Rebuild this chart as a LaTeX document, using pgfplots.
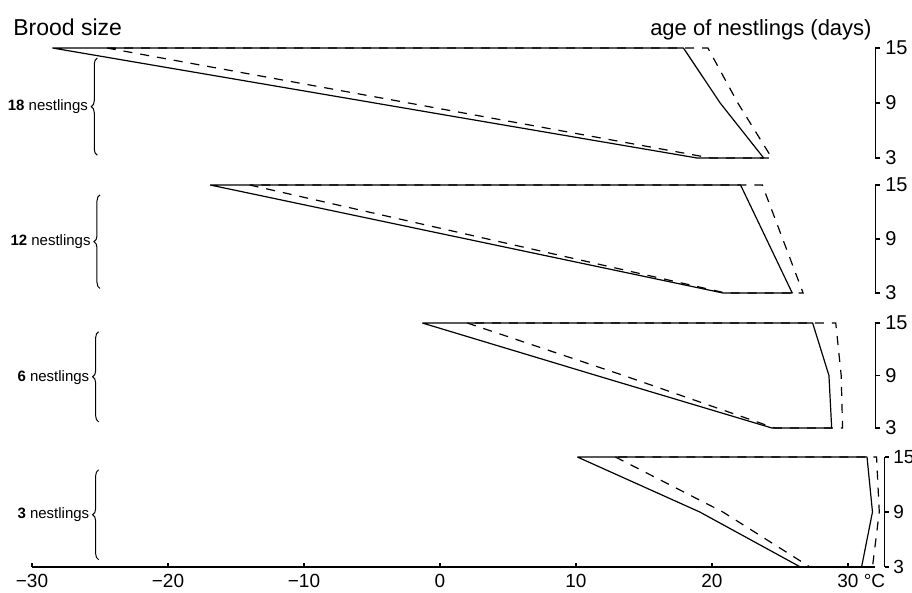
\documentclass[border=0pt]{standalone}
\usepackage{fontspec}
\setmainfont{Liberation Sans}
\usepackage{pgfplots}
\pgfplotsset{compat=1.18}
\usetikzlibrary{decorations.pathreplacing}

\pgfplotsset{
 panel/.style={
  scale only axis, xmin=-30, xmax=32, width=421.6pt, ymin=3, ymax=15,
  axis x line=none, axis y line*=right,
  axis line style={-, line width=0.6pt},
  ytick={3,9,15}, yticklabels={3,9,15},
  ytick align=outside, major tick length=2.5pt,
  tick style={line width=0.6pt, black},
  yticklabel style={font=\fontsize{10}{11}\selectfont, xshift=-1pt},
  clip=false,
 },
}
\tikzset{
 sol/.style={black, line width=0.6pt, line join=round},
 das/.style={black, line width=0.6pt, dash pattern=on 4.5pt off 4pt},
 brc/.style={decorate, decoration={brace, amplitude=3pt}, line width=0.5pt},
 lab/.style={anchor=east, font=\fontsize{7.5}{8}\selectfont, inner sep=1pt, xshift=-3.5pt},
}

\begin{document}
\begin{tikzpicture}

% 18 nestlings
\begin{axis}[panel, at={(0pt,204.5pt)}, anchor=south west, height=55pt]
\addplot[sol] coordinates {(-28.5,15) (18.9,3) (23.8,3) (20.6,9) (17.9,15) (-28.5,15)};
\addplot[das] coordinates {(-24.5,15) (19.9,3) (24.4,3) (21.9,9) (19.7,15) (-24.5,15)};
\draw[brc] (axis cs:-25.2,3.3) -- (axis cs:-25.2,13.9);
\node[lab] at (axis cs:-25.2,8.6) {\textbf{18} nestlings};
\end{axis}

% 12 nestlings
\begin{axis}[panel, at={(0pt,137pt)}, anchor=south west, height=54pt]
\addplot[sol] coordinates {(-16.9,15) (20.8,3) (25.9,3) (24.0,9) (22.1,15) (-16.9,15)};
\addplot[das] coordinates {(-14.0,15) (21.0,3) (26.7,3) (25.2,9) (23.7,15) (-14.0,15)};
\draw[brc] (axis cs:-25.0,3.5) -- (axis cs:-25.0,13.9);
\node[lab] at (axis cs:-25.0,8.7) {\textbf{12} nestlings};
\end{axis}

% 6 nestlings
\begin{axis}[panel, at={(0pt,69.5pt)}, anchor=south west, height=52.5pt]
\addplot[sol] coordinates {(-1.3,15) (11.5,9) (24.4,3) (28.8,3) (28.6,9) (27.4,15) (-1.3,15)};
\addplot[das] coordinates {(2.0,15) (13.5,9) (24.6,3) (29.6,3) (29.5,9) (29.1,15) (2.0,15)};
\draw[brc] (axis cs:-25.1,3.7) -- (axis cs:-25.1,14.0);
\node[lab] at (axis cs:-25.1,8.8) {\textbf{6} nestlings};
\end{axis}

% 3 nestlings: right age axis (bracket only, a little further right)
\begin{axis}[panel, at={(4.8pt,0pt)}, anchor=south west, height=55pt,
  major tick length=2pt,
  yticklabel style={font=\fontsize{9.5}{11}\selectfont, xshift=-0.3pt}]
\end{axis}

% 3 nestlings: data and temperature axis
\begin{axis}[scale only axis, at={(0pt,0pt)}, anchor=south west,
  width=421.6pt, height=55pt, xmin=-30, xmax=32, ymin=3, ymax=15,
  clip=false,
  axis y line=none, axis x line*=bottom,
  axis line style={-, line width=0.6pt},
  xtick={-30,-20,...,30},
  xticklabels={−30,−20,−10,0,10,20,30\rlap{\ °C}},
  xtick align=inside, major tick length=2pt,
  tick style={line width=0.6pt, black},
  xticklabel style={font=\fontsize{9.5}{10}\selectfont},
  ]
\addplot[sol] coordinates {(10.1,15) (19.1,9) (26.5,3) (31.0,3) (31.8,9) (31.4,15) (10.1,15)};
\addplot[das] coordinates {(12.9,15) (20.8,9) (27.2,3) (31.8,3) (32.3,9) (32.1,15) (12.9,15)};
\draw[brc] (axis cs:-25.1,3.8) -- (axis cs:-25.1,13.6);
\node[lab] at (axis cs:-25.1,8.7) {\textbf{3} nestlings};
\end{axis}

\node[anchor=base west, inner sep=0pt, font=\fontsize{11.5}{14}\selectfont] at (-9.5pt,265.5pt) {Brood size};
\node[anchor=base east, inner sep=0pt, font=\fontsize{11}{13}\selectfont] at (420pt,265.5pt) {age of nestlings (days)};

\pgfresetboundingbox
\path[use as bounding box] (-16pt,-13pt) rectangle (440pt,283.5pt);
\end{tikzpicture}
\end{document}
